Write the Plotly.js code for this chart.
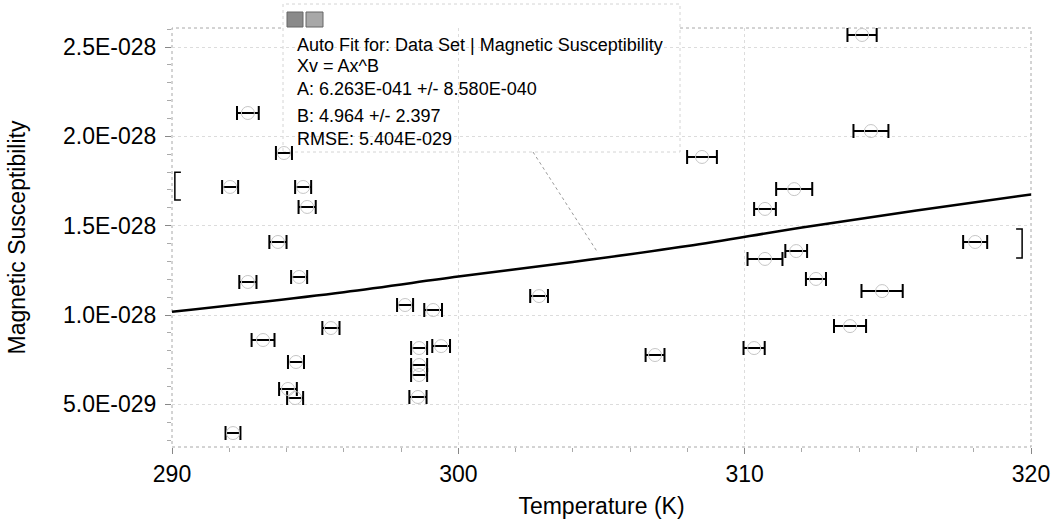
<!DOCTYPE html>
<html><head><meta charset="utf-8">
<script src="https://cdn.plot.ly/plotly-3.0.1.min.js"></script>
<style>html,body{margin:0;padding:0;background:#fff}#chart{width:1057px;height:528px}</style>
</head><body><div id="chart"></div>
<script>
// ---- data ----
const temperature = [292.65, 293.91, 292.03, 294.58, 294.72, 293.70, 292.65, 294.44, 293.18, 295.55,
  294.33, 294.05, 294.30, 292.13, 298.14, 299.12, 302.82, 298.63, 299.40, 298.63,
  298.63, 298.59, 306.87, 314.10, 314.41, 308.51, 311.73, 310.71, 318.05, 311.80,
  310.71, 312.49, 314.80, 313.68, 310.33];
const temperatureError = [0.38, 0.28, 0.28, 0.28, 0.30, 0.30, 0.30, 0.28, 0.40, 0.30,
  0.28, 0.31, 0.28, 0.26, 0.28, 0.31, 0.31, 0.28, 0.31, 0.28,
  0.28, 0.30, 0.33, 0.51, 0.61, 0.52, 0.63, 0.38, 0.42, 0.38,
  0.61, 0.35, 0.72, 0.56, 0.37];
const susceptibility = [2.131e-28, 1.907e-28, 1.717e-28, 1.717e-28, 1.605e-28, 1.409e-28, 1.185e-28, 1.213e-28, 0.860e-28, 0.927e-28,
  0.737e-28, 0.586e-28, 0.535e-28, 0.339e-28, 1.056e-28, 1.028e-28, 1.106e-28, 0.815e-28, 0.826e-28, 0.720e-28,
  0.664e-28, 0.541e-28, 0.776e-28, 2.568e-28, 2.030e-28, 1.885e-28, 1.705e-28, 1.594e-28, 1.409e-28, 1.358e-28,
  1.314e-28, 1.202e-28, 1.134e-28, 0.938e-28, 0.815e-28];
const fitTemperature = [290, 296, 300, 304, 308, 312, 316, 320];
const fitSusceptibility = [1.018e-28, 1.128e-28, 1.215e-28, 1.297e-28, 1.386e-28, 1.490e-28, 1.585e-28, 1.675e-28];
const xTickVals = [290, 300, 310, 320];
const yTickVals = [5e-29, 1e-28, 1.5e-28, 2e-28, 2.5e-28];
const yTickText = ['5.0E-029', '1.0E-028', '1.5E-028', '2.0E-028', '2.5E-028'];
const fitLabelLines = ['Auto Fit for: Data Set | Magnetic Susceptibility', 'Xv = Ax^B',
  'A: 6.263E-041 +/- 8.580E-040', 'B: 4.964 +/- 2.397', 'RMSE: 5.404E-029'];
const xTitle = 'Temperature (K)';
const yTitle = 'Magnetic Susceptibility';

// ---- layout helpers (pixel -> paper) ----
const W = 1057, H = 528, ML = 172, MR = 26, MT = 28, MB = 81;
const PW = W - ML - MR, PH = H - MT - MB;
const px = x => (x - ML) / PW;
const py = y => (H - MB - y) / PH;
const FONT = 'Liberation Sans, Arial, sans-serif';

const labelRows = [45, 66, 89, 116, 139];
const annotations = fitLabelLines.map((t, i) => ({
  text: t, xref: 'paper', yref: 'paper', x: px(295), y: py(labelRows[i]),
  xanchor: 'left', yanchor: 'middle', showarrow: false,
  font: {family: FONT, size: 18, color: '#000'}
}));

const shapes = [
  // dotted frame
  {type: 'rect', xref: 'paper', yref: 'paper', x0: 0, x1: 1, y0: 0, y1: 1,
   line: {color: '#a8a8a8', width: 1, dash: 'dot'}, layer: 'between'},
  // fit info box (white, faint dotted border)
  {type: 'rect', xref: 'paper', yref: 'paper', x0: px(283), x1: px(680), y0: py(152), y1: py(4),
   fillcolor: '#fff', line: {color: '#d4d4d4', width: 1, dash: 'dot'}, layer: 'between'},
  // connector from box to curve
  {type: 'line', xref: 'paper', yref: 'paper', x0: px(533), y0: py(152), x1: px(598), y1: py(253),
   line: {color: '#9a9a9a', width: 1, dash: 'dot'}},
  // small icon
  {type: 'rect', xref: 'paper', yref: 'paper', x0: px(287), x1: px(303), y0: py(27), y1: py(12),
   fillcolor: '#8a8a8a', line: {color: '#666', width: 1}},
  {type: 'rect', xref: 'paper', yref: 'paper', x0: px(306), x1: px(323), y0: py(27), y1: py(12),
   fillcolor: '#a8a8a8', line: {color: '#666', width: 1}},
  // fit range brackets
  {type: 'path', xref: 'x', yref: 'y',
   path: 'M 290.31 1.80e-28 L 290.10 1.80e-28 L 290.10 1.644e-28 L 290.31 1.644e-28',
   line: {color: '#000', width: 1.5}},
  {type: 'path', xref: 'x', yref: 'y',
   path: 'M 319.48 1.482e-28 L 319.69 1.482e-28 L 319.69 1.319e-28 L 319.48 1.319e-28',
   line: {color: '#000', width: 1.5}}
];

const data = [
  {x: temperature, y: susceptibility, type: 'scatter', mode: 'markers',
   marker: {symbol: 'circle-open', size: 13, color: '#c6c6c6', line: {width: 1}},
   error_x: {type: 'data', array: temperatureError, visible: true, color: '#000', thickness: 2, width: 7},
   hoverinfo: 'x+y'},
  {x: fitTemperature, y: fitSusceptibility, type: 'scatter', mode: 'lines',
   line: {color: '#000', width: 2.5, shape: 'spline'}, hoverinfo: 'skip'}
];

const layout = {
  width: W, height: H, showlegend: false,
  margin: {l: ML, r: MR, t: MT, b: MB, pad: 0},
  paper_bgcolor: '#fff', plot_bgcolor: '#fff',
  font: {family: FONT, color: '#000'},
  xaxis: {
    range: [290, 320], tickmode: 'array', tickvals: xTickVals,
    ticks: 'outside', ticklen: 6, tickcolor: '#888', tickwidth: 1,
    minor: {tickmode: 'linear', tick0: 290, dtick: 2, ticks: 'outside', ticklen: 4, tickcolor: '#aaa', showgrid: false},
    showgrid: true, gridcolor: '#dcdcdc', griddash: 'dot', gridwidth: 1,
    zeroline: false, showline: false,
    tickfont: {family: FONT, size: 23, color: '#000'},
    title: {text: xTitle, font: {family: FONT, size: 23, color: '#000'}, standoff: 12}
  },
  yaxis: {
    range: [0.261e-28, 2.607e-28], tickmode: 'array', tickvals: yTickVals, ticktext: yTickText,
    ticks: 'outside', ticklen: 6, tickcolor: '#888', tickwidth: 1,
    minor: {tickmode: 'linear', tick0: 0, dtick: 1e-29, ticks: 'outside', ticklen: 4, tickcolor: '#aaa', showgrid: false},
    showgrid: true, gridcolor: '#dcdcdc', griddash: 'dot', gridwidth: 1,
    zeroline: false, showline: false,
    tickfont: {family: FONT, size: 23, color: '#000'},
    ticklabelstandoff: 4,
    title: {text: yTitle, font: {family: FONT, size: 23, color: '#000'}, standoff: 30}
  },
  shapes: shapes,
  annotations: annotations
};

Plotly.newPlot('chart', data, layout, {displayModeBar: false, staticPlot: true});
</script>
</body></html>
